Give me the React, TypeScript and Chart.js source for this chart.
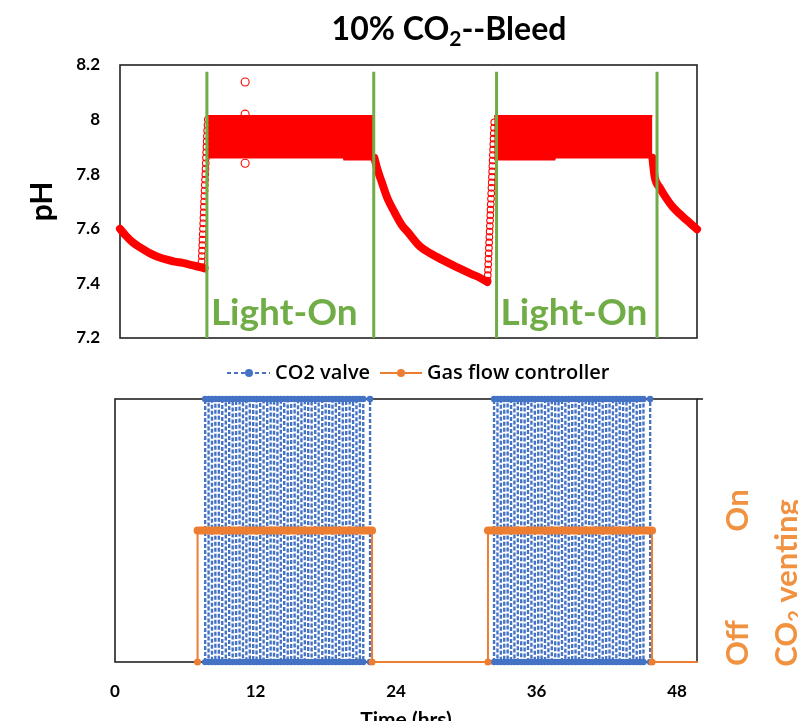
import React, { useEffect, useRef } from 'react';
import { Chart, registerables } from 'chart.js';

Chart.register(...registerables);

const FONT = 'Lato, "Open Sans", "DejaVu Sans", sans-serif';
const LEGEND_FONT = '"Open Sans", Lato, sans-serif';
const RED = '#FF0000';
const GREEN = '#70AD47';
const BLUE = '#4472C4';
const ORANGE = '#ED7D31';
const ORANGE_TEXT = '#F0923F';

// ---------------- pH panel data ----------------
const pHTicks = [7.2, 7.4, 7.6, 7.8, 8.0, 8.2];
const timeTicks = [0, 12, 24, 36, 48];
const lightOnStart = [7.5, 32.5];
const lightOnEnd = [21.9, 46.35];
const lightLineTop = 8.175;
const lightLabel = 'Light-On';

// dark-period pH decay curves
const nightT1 = [0, 0.5, 1.1, 1.8, 2.6, 3.3, 4.05, 4.7, 5.4, 6.2, 6.9, 7.3];
const nightPH1 = [7.6, 7.575, 7.55, 7.53, 7.51, 7.497, 7.487, 7.48, 7.475, 7.467, 7.46, 7.455];
const nightT2 = [21.95, 22.2, 22.6, 23.1, 23.7, 24.3, 24.9, 25.9, 27.0, 28.2, 29.3, 30.3, 31.1, 31.7];
const nightPH2 = [7.86, 7.82, 7.77, 7.71, 7.66, 7.615, 7.585, 7.535, 7.505, 7.478, 7.455, 7.435, 7.42, 7.405];
const nightT3 = [45.95, 46.15, 46.6, 47.1, 47.7, 48.3, 48.9, 49.8];
const nightPH3 = [7.86, 7.79, 7.75, 7.715, 7.68, 7.655, 7.632, 7.598];

// rising pH at light switch-on
const rise1T = [7.02, 7.04, 7.06, 7.08, 7.1, 7.12, 7.14, 7.16, 7.18, 7.2, 7.22, 7.24, 7.26, 7.28, 7.3, 7.32, 7.34, 7.36, 7.38, 7.4, 7.42, 7.44, 7.46, 7.48, 7.5, 7.52, 7.55, 7.58];
const rise1PH = [7.46, 7.48, 7.5, 7.52, 7.54, 7.56, 7.58, 7.6, 7.62, 7.64, 7.66, 7.68, 7.7, 7.72, 7.74, 7.76, 7.78, 7.8, 7.82, 7.84, 7.86, 7.88, 7.9, 7.92, 7.94, 7.96, 7.98, 8.0];
const rise2T = [31.72, 31.74, 31.76, 31.78, 31.8, 31.82, 31.84, 31.86, 31.88, 31.9, 31.92, 31.94, 31.96, 31.98, 32.0, 32.02, 32.04, 32.06, 32.08, 32.1, 32.12, 32.14, 32.16, 32.18, 32.2, 32.22, 32.24, 32.26, 32.28, 32.3];
const rise2PH = [7.41, 7.43, 7.45, 7.47, 7.49, 7.51, 7.53, 7.55, 7.57, 7.59, 7.61, 7.63, 7.65, 7.67, 7.69, 7.71, 7.73, 7.75, 7.77, 7.79, 7.81, 7.83, 7.85, 7.87, 7.89, 7.91, 7.93, 7.95, 7.97, 7.99];

// light-period oscillation band (min / max pH)
const band1T = [7.6, 19.3, 19.35, 21.95];
const band1High = [8.013, 8.013, 8.013, 8.013];
const band1Low = [7.861, 7.861, 7.854, 7.854];
const band2T = [32.3, 37.5, 37.55, 45.95];
const band2High = [8.013, 8.013, 8.013, 8.013];
const band2Low = [7.854, 7.854, 7.861, 7.861];

// isolated readings
const outlierT = [10.8, 10.8, 10.8];
const outlierPH = [8.138, 8.02, 7.84];

// ---------------- valve panel data ----------------
const valveOpen1 = [7.7, 8.28, 8.87, 9.46, 10.05, 10.64, 11.22, 11.8, 12.4, 13.0, 13.58, 14.16, 14.75, 15.34, 15.92, 16.5, 17.1, 17.7, 18.28, 18.86, 19.45, 20.04, 20.62, 21.2];
const valveClose1 = [7.99, 8.57, 9.16, 9.75, 10.34, 10.93, 11.51, 12.09, 12.69, 13.29, 13.87, 14.45, 15.04, 15.63, 16.21, 16.79, 17.39, 17.99, 18.57, 19.15, 19.74, 20.33, 20.91, 21.78];
const valveOpen2 = [32.37, 32.95, 33.53, 34.11, 34.69, 35.27, 35.85, 36.43, 37.01, 37.59, 38.17, 38.75, 39.33, 39.91, 40.49, 41.07, 41.65, 42.23, 42.81, 43.39, 43.97, 44.55, 45.13];
const valveClose2 = [32.66, 33.24, 33.82, 34.4, 34.98, 35.56, 36.14, 36.72, 37.3, 37.88, 38.46, 39.04, 39.62, 40.2, 40.78, 41.36, 41.94, 42.52, 43.1, 43.68, 44.26, 44.84, 45.7];

const gasT = [7.05, 7.05, 21.95, 21.95, 31.85, 31.85, 45.86, 45.86, 49.7];
const gasState = [0, 1, 1, 0, 0, 1, 1, 0, 0];

const stateLabels = ['Off', 'On'];

// ---------------- helpers ----------------
const pts = (xs: number[], ys: number[]) => xs.map((x, i) => ({ x, y: ys[i] }));

function valvePoints(opens: number[], closes: number[]) {
  const out: { x: number; y: number | null }[] = [];
  opens.forEach((o, i) => {
    out.push({ x: o, y: 0 }, { x: o, y: 1 }, { x: closes[i], y: 1 }, { x: closes[i], y: 0 });
  });
  return out;
}

const boxPlugin = (tick: boolean) => ({
  id: 'box' + (tick ? 'T' : 'F'),
  beforeDatasetsDraw(chart: any) {
    const { left, right, top, bottom } = chart.chartArea;
    const ctx = chart.ctx;
    ctx.save();
    ctx.strokeStyle = '#222';
    ctx.lineWidth = 1.6;
    ctx.strokeRect(left, top, right - left, bottom - top);
    if (tick) {
      ctx.beginPath();
      ctx.moveTo(right, top);
      ctx.lineTo(right + 6, top);
      ctx.stroke();
    }
    ctx.restore();
  },
});

const topTextPlugin = {
  id: 'topText',
  afterDatasetsDraw(chart: any) {
    const ctx = chart.ctx;
    const xs = chart.scales.x;
    const ys = chart.scales.y;
    ctx.save();
    // title with subscript
    const big = `bold 32px ${FONT}`;
    const small = `bold 21px ${FONT}`;
    const a = '10% CO', b = '2', c = '--Bleed';
    ctx.font = big;
    const wa = ctx.measureText(a).width;
    const wc = ctx.measureText(c).width;
    ctx.font = small;
    const wb = ctx.measureText(b).width;
    let x = 449 - (wa + wb + wc) / 2;
    const base = 40;
    ctx.fillStyle = '#000';
    ctx.textBaseline = 'alphabetic';
    ctx.textAlign = 'left';
    ctx.font = big;
    ctx.fillText(a, x, base);
    x += wa;
    ctx.font = small;
    ctx.fillText(b, x, base + 6);
    x += wb;
    ctx.font = big;
    ctx.fillText(c, x, base);
    // Light-On labels
    ctx.fillStyle = GREEN;
    ctx.font = `bold 37px ${FONT}`;
    lightOnStart.forEach((t) => {
      ctx.fillText(lightLabel, xs.getPixelForValue(t) + 4, ys.getPixelForValue(7.2) - 13);
    });
    ctx.restore();
  },
};

function drawRot(ctx: any, parts: { t: string; size: number; dy: number }[], xBase: number, yCenter: number) {
  ctx.save();
  ctx.translate(xBase, yCenter);
  ctx.rotate(-Math.PI / 2);
  ctx.textAlign = 'left';
  ctx.textBaseline = 'alphabetic';
  let total = 0;
  const ws = parts.map((p) => {
    ctx.font = `bold ${p.size}px ${FONT}`;
    const w = ctx.measureText(p.t).width;
    total += w;
    return w;
  });
  let x = -total / 2;
  parts.forEach((p, i) => {
    ctx.font = `bold ${p.size}px ${FONT}`;
    ctx.fillText(p.t, x, p.dy);
    x += ws[i];
  });
  ctx.restore();
}

const bottomTextPlugin = {
  id: 'bottomText',
  afterDraw(chart: any) {
    const ctx = chart.ctx;
    const yG = chart.scales.yGas;
    ctx.save();
    ctx.fillStyle = ORANGE_TEXT;
    drawRot(ctx, [{ t: stateLabels[0], size: 31, dy: 0 }], 748, yG.getPixelForValue(0) - 19);
    drawRot(ctx, [{ t: stateLabels[1], size: 31, dy: 0 }], 748, yG.getPixelForValue(1) - 20);
    drawRot(
      ctx,
      [
        { t: 'CO', size: 31, dy: 0 },
        { t: '2', size: 20, dy: 6 },
        { t: ' venting', size: 31, dy: 0 },
      ],
      797,
      233
    );
    // legend
    const ds = chart.data.datasets;
    const ly = 23;
    ctx.font = `600 20px ${LEGEND_FONT}`;
    ctx.textBaseline = 'middle';
    ctx.textAlign = 'left';
    // valve
    ctx.strokeStyle = BLUE;
    ctx.lineWidth = 2;
    ctx.setLineDash([4, 3]);
    ctx.beginPath();
    ctx.moveTo(227, ly);
    ctx.lineTo(270, ly);
    ctx.stroke();
    ctx.setLineDash([]);
    ctx.fillStyle = BLUE;
    ctx.beginPath();
    ctx.arc(249, ly, 4, 0, Math.PI * 2);
    ctx.fill();
    ctx.fillStyle = '#000';
    ctx.fillText(ds[1].label, 275, ly);
    // gas
    ctx.strokeStyle = ORANGE;
    ctx.beginPath();
    ctx.moveTo(380, ly);
    ctx.lineTo(422, ly);
    ctx.stroke();
    ctx.fillStyle = ORANGE;
    ctx.beginPath();
    ctx.arc(401, ly, 4, 0, Math.PI * 2);
    ctx.fill();
    ctx.fillStyle = '#000';
    ctx.fillText(ds[0].label, 427, ly);
    ctx.restore();
  },
};

function topConfig(): any {
  const curve = (xs: number[], ys: number[]) => ({
    label: 'pH',
    data: pts(xs, ys),
    borderColor: RED,
    backgroundColor: RED,
    borderWidth: 8,
    pointRadius: 0,
    cubicInterpolationMode: 'monotone',
    borderCapStyle: 'round',
    borderJoinStyle: 'round',
    fill: false,
    clip: false,
    order: 2,
  });
  const circles = (xs: number[], ys: number[], r: number) => ({
    label: 'pH',
    data: pts(xs, ys),
    showLine: false,
    pointRadius: r,
    pointBorderWidth: 1.1,
    pointBorderColor: RED,
    pointBackgroundColor: 'rgba(255,255,255,0)',
    borderColor: RED,
    order: 1,
  });
  const bandEdge = (xs: number[], ys: number[], fill: any) => ({
    label: 'pH range',
    data: pts(xs, ys),
    borderColor: RED,
    backgroundColor: RED,
    borderWidth: 2,
    pointRadius: 0,
    fill,
    order: 3,
  });
  const lights = [...lightOnStart, ...lightOnEnd].map((t) => ({
    label: 'Light',
    data: [
      { x: t, y: 7.2 },
      { x: t, y: lightLineTop },
    ],
    borderColor: GREEN,
    borderWidth: 3,
    pointRadius: 0,
    fill: false,
    clip: false,
    order: 0,
  }));
  return {
    type: 'line',
    data: {
      datasets: [
        bandEdge(band1T, band1High, false),
        bandEdge(band1T, band1Low, '-1'),
        bandEdge(band2T, band2High, false),
        bandEdge(band2T, band2Low, '-1'),
        curve(nightT1, nightPH1),
        curve(nightT2, nightPH2),
        curve(nightT3, nightPH3),
        circles(rise1T, rise1PH, 3.3),
        circles(rise2T, rise2PH, 3.3),
        circles(outlierT, outlierPH, 4),
        ...lights,
      ],
    },
    options: {
      responsive: false,
      animation: false,
      devicePixelRatio: 1,
      layout: { autoPadding: false, padding: { left: 0, right: 101, top: 65, bottom: 0 } },
      plugins: { legend: { display: false }, tooltip: { enabled: false }, title: { display: false } },
      scales: {
        x: {
          type: 'linear',
          min: 0,
          max: 49.8,
          display: true,
          afterFit: (s: any) => {
            s.height = 12;
          },
          grid: { display: false, drawTicks: false },
          border: { display: false },
          ticks: { display: false },
        },
        y: {
          type: 'linear',
          min: 7.2,
          max: 8.2,
          afterFit: (s: any) => {
            s.width = 120;
            s.paddingTop = 0;
            s.paddingBottom = 0;
          },
          afterBuildTicks: (s: any) => {
            s.ticks = pHTicks.map((v) => ({ value: v }));
          },
          grid: { display: false, drawTicks: false },
          border: { display: false },
          ticks: {
            padding: 20,
            color: '#000',
            font: { family: FONT, size: 17, weight: 'bold' },
            callback: (v: any) => String(Number(Number(v).toFixed(1))),
          },
          title: {
            display: true,
            text: 'pH',
            color: '#000',
            font: { family: FONT, size: 30, weight: 'bold' },
            padding: { top: 24, bottom: 0 },
          },
        },
      },
    },
    plugins: [boxPlugin(false), topTextPlugin],
  };
}

function bottomConfig(): any {
  const valveData = [
    ...valvePoints(valveOpen1, valveClose1),
    { x: 27, y: null },
    ...valvePoints(valveOpen2, valveClose2),
  ];
  return {
    type: 'line',
    data: {
      datasets: [
        {
          label: 'Gas flow controller',
          data: pts(gasT, gasState),
          yAxisID: 'yGas',
          borderColor: ORANGE,
          backgroundColor: ORANGE,
          borderWidth: 2,
          borderCapStyle: 'round',
          borderJoinStyle: 'round',
          segment: {
            borderWidth: (c: any) => (c.p0.parsed.y === 1 && c.p1.parsed.y === 1 ? 8 : 2),
          },
          pointRadius: (c: any) => (c.raw && c.raw.x >= 49 ? 0 : 3.5),
          pointBorderWidth: 0,
          pointBackgroundColor: ORANGE,
          fill: false,
          clip: false,
          order: 0,
        },
        {
          label: 'CO2 valve',
          data: valveData,
          yAxisID: 'yValve',
          borderColor: BLUE,
          backgroundColor: BLUE,
          borderWidth: 2.4,
          borderDash: [4, 2],
          pointRadius: 3.2,
          pointBorderWidth: 0,
          pointBackgroundColor: BLUE,
          spanGaps: false,
          fill: false,
          clip: false,
          order: 1,
        },
      ],
    },
    options: {
      responsive: false,
      animation: false,
      devicePixelRatio: 1,
      layout: { autoPadding: false, padding: { left: 115, right: 101, top: 49, bottom: 0 } },
      plugins: { legend: { display: false }, tooltip: { enabled: false }, title: { display: false } },
      scales: {
        x: {
          type: 'linear',
          min: 0,
          max: 49.7,
          afterFit: (s: any) => {
            s.height = 59;
          },
          afterBuildTicks: (s: any) => {
            s.ticks = timeTicks.map((v) => ({ value: v }));
          },
          grid: { display: false, drawTicks: false },
          border: { display: false },
          ticks: {
            padding: 19,
            color: '#000',
            maxRotation: 0,
            autoSkip: false,
            font: { family: FONT, size: 17, weight: 'bold' },
          },
          title: {
            display: true,
            text: 'Time (hrs)',
            color: '#000',
            font: { family: FONT, size: 21, weight: 'bold' },
            padding: { top: 0, bottom: -12 },
          },
        },
        yValve: { type: 'linear', min: 0, max: 1, display: false },
        yGas: { type: 'linear', min: 0, max: 2, display: false },
      },
    },
    plugins: [boxPlugin(true), bottomTextPlugin],
  };
}

export default function App() {
  const topRef = useRef<HTMLCanvasElement>(null);
  const botRef = useRef<HTMLCanvasElement>(null);
  useEffect(() => {
    const top = new Chart(topRef.current as HTMLCanvasElement, topConfig());
    const bot = new Chart(botRef.current as HTMLCanvasElement, bottomConfig());
    return () => {
      top.destroy();
      bot.destroy();
    };
  }, []);
  return (
    <div
      style={{
        position: 'absolute',
        left: 0,
        top: 0,
        width: 798,
        height: 721,
        background: '#fff',
        overflow: 'hidden',
      }}
    >
      <canvas ref={topRef} width={798} height={350} style={{ position: 'absolute', left: 0, top: 0, width: 798, height: 350 }} />
      <canvas ref={botRef} width={798} height={371} style={{ position: 'absolute', left: 0, top: 350, width: 798, height: 371 }} />
    </div>
  );
}
